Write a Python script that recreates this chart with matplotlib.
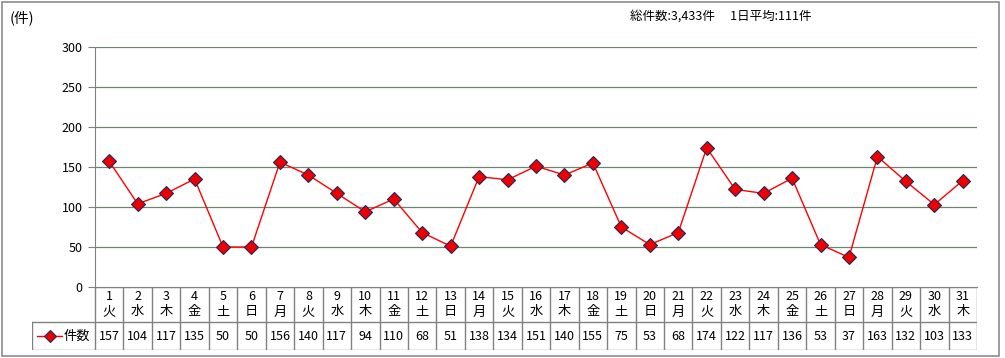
import numpy as np
import matplotlib.pyplot as plt
from matplotlib.patches import Rectangle
from matplotlib.lines import Line2D

plt.rcParams['font.family'] = ['Noto Sans CJK JP', 'DejaVu Sans']

days = [str(d) for d in range(1, 32)]
weekdays = ['火', '水', '木', '金', '土', '日', '月', '火', '水', '木', '金', '土', '日', '月',
            '火', '水', '木', '金', '土', '日', '月', '火', '水', '木', '金', '土', '日', '月',
            '火', '水', '木']
counts = [157, 104, 117, 135, 50, 50, 156, 140, 117, 94, 110, 68, 51, 138, 134, 151,
          140, 155, 75, 53, 68, 174, 122, 117, 136, 53, 37, 163, 132, 103, 133]
yticks = [0, 50, 100, 150, 200, 250, 300]
series_name = '件数'

W, H = 1005, 358
fig = plt.figure(figsize=(W / 100, H / 100), dpi=100)

def fx(px):
    return px / W

def fy(py):
    return 1 - py / H

# outer frame
fig.patches.append(Rectangle((fx(1.5), fy(356)), fx(997), 354.5 / H, transform=fig.transFigure,
                             fill=False, edgecolor='#8c8c8c', linewidth=1.2))

left, right, top, bottom = 95, 977, 47, 287
ax = fig.add_axes([fx(left), fy(bottom), fx(right - left), (bottom - top) / H])
x = np.arange(len(counts))
ax.plot(x, counts, color='#ff0000', linewidth=1, marker='D', markersize=7.5,
        markerfacecolor='#ee0000', markeredgecolor='#1f2a5a', markeredgewidth=0.8, zorder=3)
ax.set_xlim(-0.5, len(counts) - 0.5)
ax.set_ylim(0, 300)
ax.set_yticks(yticks)
ax.set_yticklabels([str(v) for v in yticks], fontsize=9)
ax.set_xticks([])
ax.tick_params(axis='y', length=5, width=0.8, color='#808080', pad=4)
for v in yticks[1:]:
    ax.axhline(v, color='#6f836f', linewidth=0.9, zorder=1)
for s in ['top', 'right']:
    ax.spines[s].set_visible(False)
ax.spines['left'].set_color('#808080')
ax.spines['bottom'].set_color('#808080')
ax.patch.set_alpha(0)

# data table under the chart
tleft, tbot = 32, 350
unit = (right - left) / len(counts)
tab = fig.add_axes([fx(tleft), fy(tbot), fx(right - tleft), (tbot - bottom) / H])
x0 = -0.5 - (left - tleft) / unit
tab.set_xlim(x0, len(counts) - 0.5)
tab.set_ylim(tbot - bottom, 0)
tab.axis('off')
row1 = 322 - bottom
rowh = tbot - bottom
lc = '#808080'
# horizontal lines
tab.add_line(Line2D([-0.5, len(counts) - 0.5], [0, 0], color=lc, lw=1))
tab.add_line(Line2D([x0, len(counts) - 0.5], [row1, row1], color=lc, lw=1))
tab.add_line(Line2D([x0, len(counts) - 0.5], [rowh, rowh], color=lc, lw=1))
tab.add_line(Line2D([x0, x0], [row1, rowh], color=lc, lw=1))
for i in range(len(counts) + 1):
    tab.add_line(Line2D([i - 0.5, i - 0.5], [0, rowh], color=lc, lw=1))
for i in range(len(counts)):
    tab.text(i, 10, days[i], ha='center', va='center', fontsize=9)
    tab.text(i, 25, weekdays[i], ha='center', va='center', fontsize=9.5)
    tab.text(i, (row1 + rowh) / 2, str(counts[i]), ha='center', va='center', fontsize=9)
# legend key
ymid = (row1 + rowh) / 2
lx = x0 + 5 / unit
tab.add_line(Line2D([lx, lx + 25 / unit], [ymid, ymid], color='#ff0000', lw=1))
tab.plot([lx + 12.5 / unit], [ymid], marker='D', markersize=6,
         markerfacecolor='#ee0000', markeredgecolor='#1f2a5a', markeredgewidth=0.8)
tab.text(x0 + 32 / unit, ymid, series_name, ha='left', va='center', fontsize=9.5)

fig.text(fx(10), fy(18), '(件)', ha='left', va='center', fontsize=10.5)
fig.text(fx(630), fy(16), '総件数:3,433件　 1日平均:111件', ha='left', va='center', fontsize=9)

fig.savefig('out.png', dpi=100)
